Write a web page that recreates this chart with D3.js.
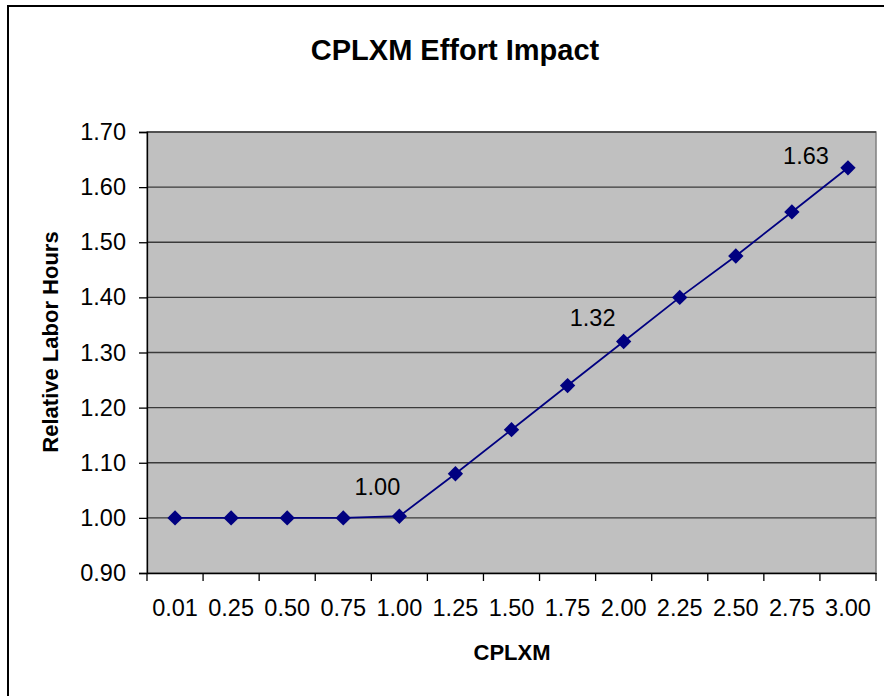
<!DOCTYPE html>
<html>
<head>
<meta charset="utf-8">
<script src="https://cdn.jsdelivr.net/npm/d3@7"></script>
<style>
  body { margin: 0; background: #fff; }
  svg text { font-family: "Liberation Sans", Arial, sans-serif; fill: #000; }
</style>
</head>
<body>
<div id="chart"></div>
<script>
// categories along the x axis
var cplxm = ['0.01', '0.25', '0.50', '0.75', '1.00', '1.25', '1.50',
    '1.75', '2.00', '2.25', '2.50', '2.75', '3.00'];

// relative labor hours for each category
var laborHours = [1.00, 1.00, 1.00, 1.00, 1.003, 1.08, 1.16,
    1.24, 1.32, 1.40, 1.475, 1.555, 1.635];

// y tick values
var yTicks = [0.90, 1.00, 1.10, 1.20, 1.30, 1.40, 1.50, 1.60, 1.70];

// which points carry a data label, and the text shown
var labelIndex = [4, 8, 12];
var labelText = ['1.00', '1.32', '1.63'];

var W = 884, H = 696;
var margin = { top: 132, right: 8, bottom: 123, left: 147 },
    width = 876 - margin.left,
    height = 573 - margin.top;

var svg = d3.select("#chart").append("svg")
    .attr("width", W)
    .attr("height", H);

// outer chart border
svg.append("rect")
    .attr("x", 8).attr("y", 6)
    .attr("width", 1000).attr("height", 1000)
    .attr("fill", "none")
    .attr("stroke", "#000")
    .attr("stroke-width", 2);

var canvas = svg.append("g")
    .attr("transform", "translate(" + margin.left + "," + margin.top + ")");

var xScale = d3.scaleBand()
    .domain(cplxm)
    .range([0, width]);

var yScale = d3.scaleLinear()
    .domain([0.9, 1.7])
    .range([height, 0]);

// plot area
canvas.append("rect")
    .attr("width", width)
    .attr("height", height)
    .attr("fill", "#c0c0c0")
    .attr("stroke", "#808080")
    .attr("stroke-width", 1.5);

// gridlines
canvas.append("g")
    .selectAll("line")
    .data(yTicks.slice(1))
    .enter().append("line")
    .attr("x1", 0).attr("x2", width)
    .attr("y1", function (d) { return yScale(d); })
    .attr("y2", function (d) { return yScale(d); })
    .attr("stroke", "#3a3a3a")
    .attr("stroke-width", 1.3);

// y axis
var yAxis = d3.axisLeft(yScale)
    .tickValues(yTicks)
    .tickSize(8)
    .tickPadding(13)
    .tickFormat(d3.format(".2f"));

canvas.append("g")
    .attr("class", "y axis")
    .call(yAxis)
    .call(function (g) {
        g.selectAll("path, line").attr("stroke", "#000").attr("stroke-width", 1.3);
        g.selectAll("text").style("font-size", "23.5px");
    });

// x axis: ticks sit between the categories
var xAxis = d3.axisBottom(xScale)
    .tickSize(0)
    .tickPadding(26);

var xg = canvas.append("g")
    .attr("class", "x axis")
    .attr("transform", "translate(0," + height + ")")
    .call(xAxis);

xg.select(".domain").attr("stroke", "#000").attr("stroke-width", 1.3);
xg.selectAll("text").style("font-size", "23.5px");

xg.selectAll(".sep")
    .data(d3.range(cplxm.length + 1))
    .enter().append("line")
    .attr("class", "sep")
    .attr("x1", function (i) { return i * xScale.step(); })
    .attr("x2", function (i) { return i * xScale.step(); })
    .attr("y1", 0).attr("y2", 8)
    .attr("stroke", "#000")
    .attr("stroke-width", 1.3);

var cx = function (d, i) { return xScale(cplxm[i]) + xScale.bandwidth() / 2; };

// series line
var line = d3.line()
    .x(cx)
    .y(function (d) { return yScale(d); });

canvas.append("path")
    .datum(laborHours)
    .attr("d", line)
    .attr("fill", "none")
    .attr("stroke", "#000080")
    .attr("stroke-width", 1.8);

// diamond markers
canvas.selectAll(".pt")
    .data(laborHours)
    .enter().append("path")
    .attr("class", "pt")
    .attr("d", d3.symbol().type(d3.symbolDiamond2).size(150))
    .attr("transform", function (d, i) {
        return "translate(" + cx(d, i) + "," + yScale(d) + ")";
    })
    .attr("fill", "#000080");

// data labels
var labelShift = [[-22, -21], [-31, -15], [-42, -4]];
canvas.selectAll(".lbl")
    .data(labelIndex)
    .enter().append("text")
    .attr("class", "lbl")
    .attr("x", function (d, j) { return cx(null, d) + labelShift[j][0]; })
    .attr("y", function (d, j) { return yScale(laborHours[d]) + labelShift[j][1]; })
    .attr("text-anchor", "middle")
    .style("font-size", "23.5px")
    .text(function (d, j) { return labelText[j]; });

// titles
svg.append("text")
    .attr("x", 455).attr("y", 60)
    .attr("text-anchor", "middle")
    .style("font-size", "29px")
    .style("font-weight", "bold")
    .text("CPLXM Effort Impact");

svg.append("text")
    .attr("transform", "translate(58,342) rotate(-90)")
    .attr("text-anchor", "middle")
    .style("font-size", "22px")
    .style("font-weight", "bold")
    .text("Relative Labor Hours");

svg.append("text")
    .attr("x", 512).attr("y", 660)
    .attr("text-anchor", "middle")
    .style("font-size", "22px")
    .style("font-weight", "bold")
    .text("CPLXM");
</script>
</body>
</html>
